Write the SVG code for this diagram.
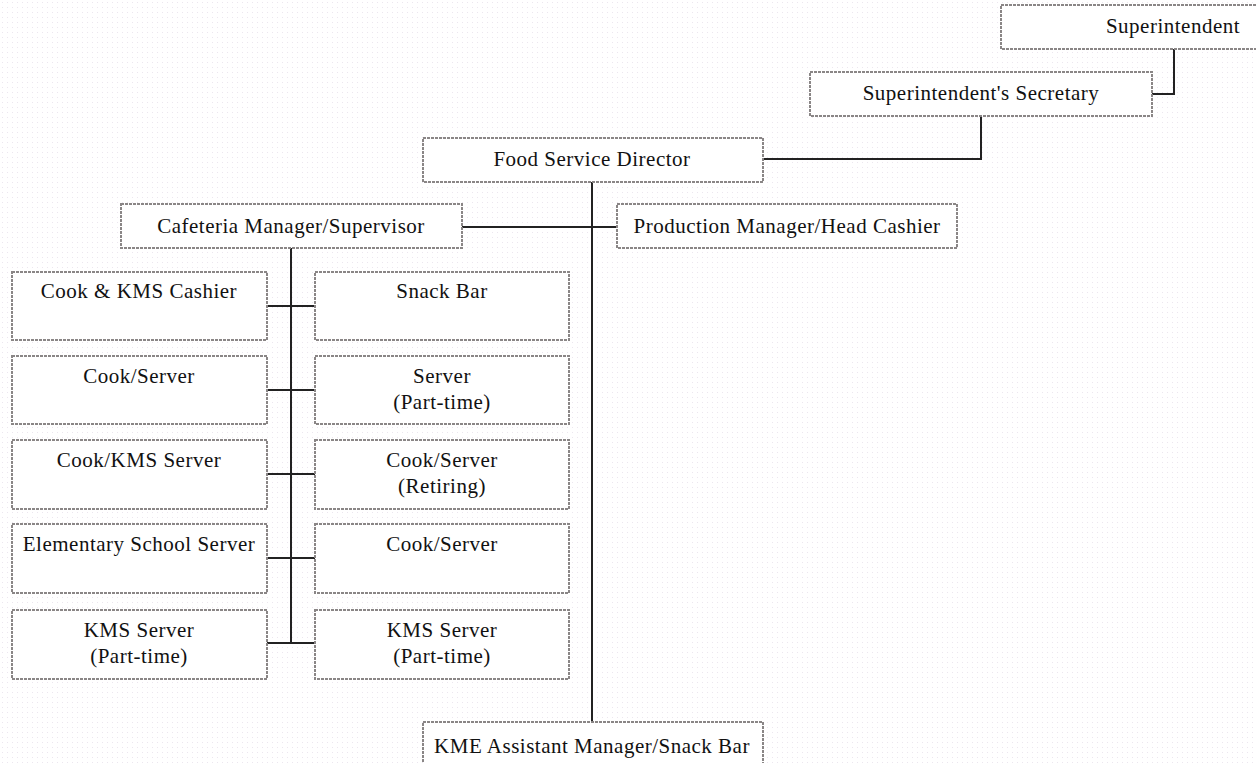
<svg xmlns="http://www.w3.org/2000/svg" width="1256" height="763" viewBox="0 0 1256 763">
<defs>
<pattern id="dots" width="5" height="5" patternUnits="userSpaceOnUse">
<rect width="5" height="5" fill="#ffffff"/>
<rect x="2" y="2" width="1" height="1" fill="#ece6ef"/>
</pattern>
</defs>
<style>
.box{fill:#ffffff;stroke:#8a8686;stroke-width:2;stroke-dasharray:3 1}
.lbl{font-family:"Liberation Serif","Times New Roman",serif;font-size:21px;letter-spacing:0.5px;fill:#111;text-anchor:middle}
.con{stroke:#222;stroke-width:2;fill:none}
</style>
<rect width="1256" height="763" fill="url(#dots)"/>
<g id="connectors">
<polyline class="con" points="1174,49 1174,94 1152,94"/>
<polyline class="con" points="763,159 981,159 981,116"/>
<line class="con" x1="592" y1="182" x2="592" y2="722"/>
<line class="con" x1="462" y1="227" x2="617" y2="227"/>
<line class="con" x1="291" y1="248" x2="291" y2="643"/>
<line class="con" x1="267" y1="306" x2="315" y2="306"/>
<line class="con" x1="267" y1="390" x2="315" y2="390"/>
<line class="con" x1="267" y1="474" x2="315" y2="474"/>
<line class="con" x1="267" y1="558" x2="315" y2="558"/>
<line class="con" x1="267" y1="643" x2="315" y2="643"/>
</g>
<g id="superintendent"><rect class="box" x="1001" y="5" width="344" height="44"/><text class="lbl" x="1173" y="33">Superintendent</text></g>
<g id="secretary"><rect class="box" x="810" y="72" width="342" height="44"/><text class="lbl" x="981" y="100">Superintendent's Secretary</text></g>
<g id="director"><rect class="box" x="423" y="138" width="340" height="44"/><text class="lbl" x="592" y="166">Food Service Director</text></g>
<g id="cafeteria-manager"><rect class="box" x="121" y="204" width="341" height="44"/><text class="lbl" x="291" y="233">Cafeteria Manager/Supervisor</text></g>
<g id="production-manager"><rect class="box" x="617" y="204" width="340" height="44"/><text class="lbl" x="787" y="233">Production Manager/Head Cashier</text></g>
<g id="cook-kms-cashier"><rect class="box" x="12" y="272" width="255" height="68"/><text class="lbl" x="139" y="298">Cook &amp; KMS Cashier</text></g>
<g id="snack-bar"><rect class="box" x="315" y="272" width="254" height="68"/><text class="lbl" x="442" y="298">Snack Bar</text></g>
<g id="cook-server-1"><rect class="box" x="12" y="356" width="255" height="68"/><text class="lbl" x="139" y="383">Cook/Server</text></g>
<g id="server-part-time"><rect class="box" x="315" y="356" width="254" height="68"/><text class="lbl" x="442" y="383">Server</text><text class="lbl" x="442" y="409">(Part-time)</text></g>
<g id="cook-kms-server"><rect class="box" x="12" y="440" width="255" height="69"/><text class="lbl" x="139" y="467">Cook/KMS Server</text></g>
<g id="cook-server-retiring"><rect class="box" x="315" y="440" width="254" height="69"/><text class="lbl" x="442" y="467">Cook/Server</text><text class="lbl" x="442" y="493">(Retiring)</text></g>
<g id="elementary-server"><rect class="box" x="12" y="524" width="255" height="69"/><text class="lbl" x="139" y="551">Elementary School Server</text></g>
<g id="cook-server-2"><rect class="box" x="315" y="524" width="254" height="69"/><text class="lbl" x="442" y="551">Cook/Server</text></g>
<g id="kms-server-left"><rect class="box" x="12" y="610" width="255" height="69"/><text class="lbl" x="139" y="637">KMS Server</text><text class="lbl" x="139" y="663">(Part-time)</text></g>
<g id="kms-server-right"><rect class="box" x="315" y="610" width="254" height="69"/><text class="lbl" x="442" y="637">KMS Server</text><text class="lbl" x="442" y="663">(Part-time)</text></g>
<g id="kme-assistant"><rect class="box" x="423" y="722" width="340" height="50"/><text class="lbl" x="592" y="753">KME Assistant Manager/Snack Bar</text></g>
</svg>
